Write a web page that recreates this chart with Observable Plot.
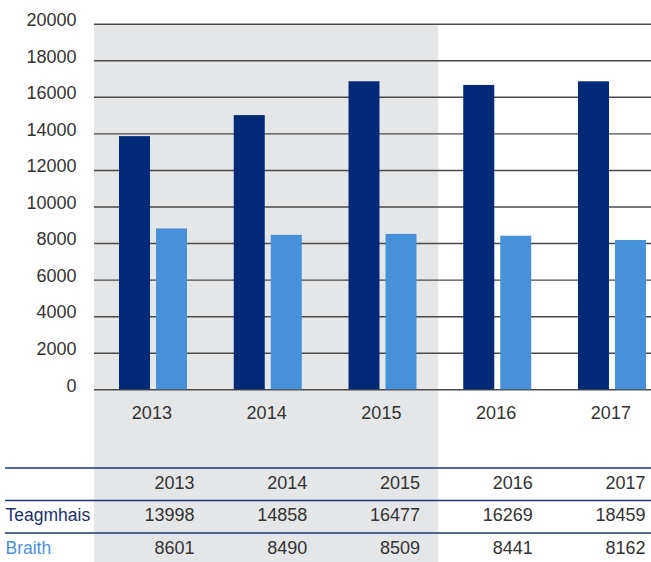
<!DOCTYPE html>
<html><head><meta charset="utf-8">
<script src="https://cdn.jsdelivr.net/npm/d3@7"></script>
<script src="https://cdn.jsdelivr.net/npm/@observablehq/plot@0.6"></script>
<style>
body{margin:0;background:#fff;}
#wrap{position:relative;width:651px;height:562px;}
#chart svg,#table svg{display:block;}
#table{position:absolute;left:0;top:440px;}
</style></head><body><div id="wrap"><div id="chart"></div><div id="table"></div></div>
<script>
// Data
const years = ["2013", "2014", "2015", "2016", "2017"];
const shadedYears = ["2013", "2014", "2015"];
const teagmhaisBars = [13850, 15000, 16850, 16650, 16850];
const braithBars = [8800, 8450, 8500, 8400, 8170];
const yTicks = [0, 2000, 4000, 6000, 8000, 10000, 12000, 14000, 16000, 18000, 20000];
const tableRows = ["header", "Teagmhais", "Braith"];
const teagmhaisTable = ["13998", "14858", "16477", "16269", "18459"];
const braithTable = ["8601", "8490", "8509", "8441", "8162"];

const font = "'Liberation Sans', Arial, sans-serif";
const darkBlue = "#022a78", lightBlue = "#4791db", shade = "#e5e6e8";

const bars = years.map((y, i) => ({year: y, t: teagmhaisBars[i], b: braithBars[i]}));

const chart = Plot.plot({
  width: 651, height: 562,
  marginLeft: 94, marginRight: 0, marginTop: 23.7, marginBottom: 172.7,
  style: {fontFamily: font, fontSize: "18px", color: "#333", background: "transparent"},
  x: {type: "band", domain: years, range: [94, 94 + 5 * 114.75], padding: 0, round: false},
  y: {domain: [0, 20000]},
  marks: [
    Plot.barY(shadedYears, {x: d => d, y1: 0, y2: 20000, fill: shade, insetBottom: -172.7, shapeRendering: "crispEdges"}),
    Plot.ruleY(yTicks, {stroke: "#4a4a4a", strokeWidth: 1.4}),
    Plot.barY(bars, {x: "year", y: "t", fill: darkBlue, insetLeft: 25, insetRight: 58.75}),
    Plot.barY(bars, {x: "year", y: "b", fill: lightBlue, insetLeft: 62, insetRight: 21.75}),
    Plot.axisY({ticks: yTicks, tickFormat: "d", tickSize: 0, tickPadding: 18, dy: -4, fontSize: 18, fill: "#333", label: null}),
    Plot.axisX({tickSize: 0, tickPadding: 16, fontSize: 18, fill: "#333", label: null})
  ]
});
document.getElementById("chart").append(chart);

const tableData = [];
years.forEach((y, i) => {
  tableData.push({row: "header", year: y, text: y});
  tableData.push({row: "Teagmhais", year: y, text: teagmhaisTable[i]});
  tableData.push({row: "Braith", year: y, text: braithTable[i]});
});

const table = Plot.plot({
  width: 651, height: 122,
  marginLeft: 5, marginRight: 0, marginTop: 0, marginBottom: 0,
  style: {fontFamily: font, fontSize: "18px", background: "transparent"},
  x: {type: "point", domain: years, range: [194, 645], padding: 0, round: false, axis: null},
  y: {type: "point", domain: tableRows, range: [42.5, 107.5], padding: 0, round: false, axis: null},
  marks: [
    Plot.ruleY(tableRows, {y: d => d, dy: -15, stroke: "#1e3677", strokeWidth: 1.4}),
    Plot.text(tableData, {x: "year", y: "row", text: "text", textAnchor: "end", fill: "#333", fontSize: 18}),
    Plot.text(["Teagmhais"], {y: d => d, text: d => d, frameAnchor: "left", textAnchor: "start", fill: "#1b2f72", fontSize: 17.5}),
    Plot.text(["Braith"], {y: d => d, text: d => d, frameAnchor: "left", textAnchor: "start", fill: "#4a92dc", fontSize: 17.5})
  ]
});
document.getElementById("table").append(table);
</script></body></html>
